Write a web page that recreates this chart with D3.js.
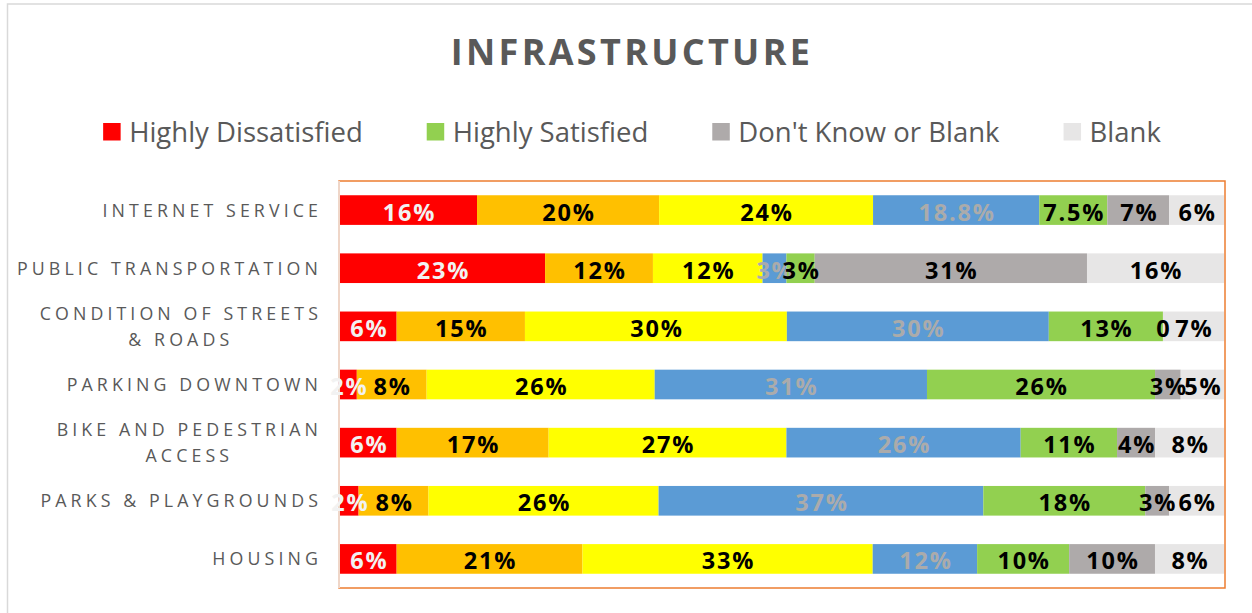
<!DOCTYPE html>
<html>
<head>
<meta charset="utf-8">
<script src="https://cdn.jsdelivr.net/npm/d3@7"></script>
<style>
  body { margin: 0; background: #fff; }
  svg { display: block; }
</style>
</head>
<body>
<div id="chart"></div>
<script>
// 类别 (y 轴)
var categories = ["INTERNET SERVICE", "PUBLIC TRANSPORTATION", "CONDITION OF STREETS\n& ROADS",
  "PARKING DOWNTOWN", "BIKE AND PEDESTRIAN\nACCESS", "PARKS & PLAYGROUNDS", "HOUSING"];

// 系列名与颜色
var seriesNames = ["Highly Dissatisfied", "Dissatisfied", "Neutral", "Satisfied",
  "Highly Satisfied", "Don't Know or Blank", "Blank"];
var seriesColors = ["#FF0000", "#FFC000", "#FFFF00", "#5B9BD5", "#92D050", "#AEAAAA", "#E7E6E6"];
var labelColors = ["#F2F2F2", "#000", "#000", "#ABABAB", "#000", "#000", "#000"];
var legendNames = ["Highly Dissatisfied", "Highly Satisfied", "Don't Know or Blank", "Blank"];

// 各系列的数值 (%)
var highlyDissatisfied = [15.5, 23.2, 6.4, 1.9, 6.4, 2.1, 6.4];
var dissatisfied       = [20.6, 12.2, 14.5, 7.9, 17.2, 7.9, 21.0];
var neutral            = [24.2, 12.4, 29.6, 25.8, 26.9, 26.0, 32.8];
var satisfied          = [18.8, 2.7, 29.6, 30.8, 26.5, 36.7, 11.8];
var highlySatisfied    = [7.7, 3.2, 12.9, 25.8, 10.9, 18.3, 10.4];
var dontKnow           = [7.0, 30.8, 0, 2.9, 4.3, 2.7, 9.7];
var blank              = [6.2, 15.5, 6.9, 4.9, 7.8, 6.2, 7.8];

// 数据标签 (图上显示的文字)
var hdLabels = ["16%", "23%", "6%", "2%", "6%", "2%", "6%"];
var dLabels  = ["20%", "12%", "15%", "8%", "17%", "8%", "21%"];
var nLabels  = ["24%", "12%", "30%", "26%", "27%", "26%", "33%"];
var sLabels  = ["18.8%", "3%", "30%", "31%", "26%", "37%", "12%"];
var hsLabels = ["7.5%", "3%", "13%", "26%", "11%", "18%", "10%"];
var dkLabels = ["7%", "31%", "0", "3%", "4%", "3%", "10%"];
var bLabels  = ["6%", "16%", "7%", "5%", "8%", "6%", "8%"];

var seriesValues = [highlyDissatisfied, dissatisfied, neutral, satisfied, highlySatisfied, dontKnow, blank];
var seriesLabels = [hdLabels, dLabels, nLabels, sLabels, hsLabels, dkLabels, bLabels];

var width = 1252, height = 613;
var plot = { left: 340, right: 1224, top: 181, bottom: 588 };

var table = categories.map(function (c, i) {
  var row = { cat: c };
  seriesNames.forEach(function (s, j) { row[s] = seriesValues[j][i]; });
  return row;
});

var svg = d3.select("#chart").append("svg")
  .attr("width", width)
  .attr("height", height);

// 外框
svg.append("rect")
  .attr("x", 7.5).attr("y", 4)
  .attr("width", 1270).attr("height", 640)
  .attr("fill", "#fff")
  .attr("stroke", "#D9D9D9")
  .attr("stroke-width", 1.5);

// 标题
svg.append("text")
  .attr("x", 632).attr("y", 65)
  .attr("text-anchor", "middle")
  .attr("font-family", "'Open Sans', sans-serif")
  .attr("font-weight", "bold")
  .attr("font-size", 36)
  .attr("letter-spacing", 3.3)
  .attr("fill", "#595959")
  .text("INFRASTRUCTURE");

// 比例尺
var x = d3.scaleLinear().domain([0, 1]).range([plot.left, plot.right]);
var y = d3.scaleBand().domain(categories).range([plot.top, plot.bottom])
  .paddingInner(0.49).paddingOuter(0.245);

var stack = d3.stack().keys(seriesNames).offset(d3.stackOffsetExpand);
var stacked = stack(table);

// 绘图区边框
svg.append("rect")
  .attr("x", plot.left - 1).attr("y", plot.top)
  .attr("width", plot.right - plot.left + 2).attr("height", plot.bottom - plot.top)
  .attr("fill", "none")
  .attr("stroke", "#ED7D31")
  .attr("stroke-width", 1.5);
svg.append("line")
  .attr("x1", plot.left - 1).attr("x2", plot.left - 1)
  .attr("y1", plot.top).attr("y2", plot.bottom)
  .attr("stroke", "#EFD6C8")
  .attr("stroke-width", 2);

// 条形
var groups = svg.append("g").selectAll("g")
  .data(stacked)
  .join("g")
  .attr("fill", function (d, i) { return seriesColors[i]; });

groups.selectAll("rect")
  .data(function (d) { return d; })
  .join("rect")
  .attr("x", function (d) { return x(d[0]); })
  .attr("y", function (d) { return y(d.data.cat); })
  .attr("width", function (d) { return x(d[1]) - x(d[0]); })
  .attr("height", y.bandwidth());

// 数据标签
var labelGroups = svg.append("g").selectAll("g")
  .data(stacked)
  .join("g")
  .attr("fill", function (d, i) { return labelColors[i]; });

labelGroups.selectAll("text")
  .data(function (d, i) { return d.map(function (p, j) { return { p: p, t: seriesLabels[i][j] }; }); })
  .join("text")
  .attr("x", function (d) { return (x(d.p[0]) + x(d.p[1])) / 2 + 1; })
  .attr("y", function (d) { return y(d.p.data.cat) + y.bandwidth() / 2 + 10.5; })
  .attr("text-anchor", "middle")
  .attr("font-family", "'Open Sans', sans-serif")
  .attr("font-weight", "bold")
  .attr("font-size", 23.5)
  .attr("letter-spacing", 1.8)
  .text(function (d) { return d.t; });

// 类别标签
var catG = svg.append("g")
  .attr("font-family", "'Open Sans', sans-serif")
  .attr("font-size", 17.8)
  .attr("letter-spacing", 4.1)
  .attr("fill", "#595959");

categories.forEach(function (c) {
  var lines = c.split("\n");
  var cy = y(c) + y.bandwidth() / 2;
  var t = catG.append("text").attr("text-anchor", "middle");
  var spans = lines.map(function (l, k) {
    return t.append("tspan")
      .attr("y", cy + 6.5 + (k - (lines.length - 1) / 2) * 25.7)
      .text(l);
  });
  var maxW = d3.max(spans, function (s) { return s.node().getComputedTextLength(); });
  var cx = 322 - maxW / 2;
  spans.forEach(function (s) { s.attr("x", cx); });
});

// 图例
var legend = svg.append("g")
  .attr("font-family", "'Open Sans', sans-serif")
  .attr("font-size", 27.5)
  .attr("fill", "#595959");
var items = legendNames.map(function (n) {
  var g = legend.append("g");
  g.append("rect")
    .attr("x", 0).attr("y", 123)
    .attr("width", 17.5).attr("height", 17.5)
    .attr("fill", seriesColors[seriesNames.indexOf(n)]);
  var t = g.append("text")
    .attr("x", 26).attr("y", 142)
    .text(n);
  return { g: g, w: 26 + t.node().getComputedTextLength() };
});
var gap = 64;
var total = d3.sum(items, function (d) { return d.w; }) + gap * (items.length - 1);
var lx = 632 - total / 2;
items.forEach(function (it) {
  it.g.attr("transform", "translate(" + lx + ",0)");
  lx += it.w + gap;
});
</script>
</body>
</html>
